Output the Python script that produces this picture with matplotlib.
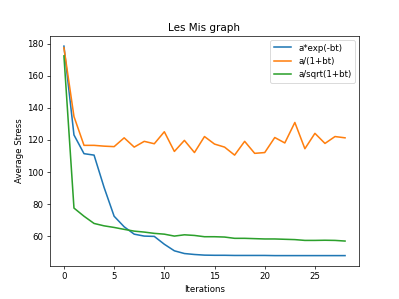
import matplotlib
matplotlib.use("Agg")
import matplotlib.pyplot as plt

iterations = list(range(29))

stress_exp = [178.5, 123, 111.3, 110.4, 90.2, 72.2, 65.6, 61, 59.8, 59.6,
              54.7, 50.6, 48.9, 48.3, 47.9, 47.8, 47.8, 47.7, 47.7, 47.7,
              47.7, 47.6, 47.6, 47.6, 47.6, 47.6, 47.6, 47.6, 47.6]
stress_inv = [177.5, 134.5, 116.5, 116.5, 116, 115.7, 121.2, 115.4, 119, 117.5,
              125, 112.7, 119.6, 112, 122, 117.3, 115.4, 110.4, 119, 111.5,
              112, 121.4, 118, 130.8, 114.4, 124, 117.7, 122, 121.2]
stress_sqrt = [172.4, 77.3, 72.2, 67.7, 66.2, 65.2, 64, 62.9, 62.3, 61.5,
               61, 59.8, 60.6, 60.2, 59.4, 59.4, 59.2, 58.4, 58.4, 58.2,
               58, 58, 57.8, 57.6, 57.1, 57.1, 57.2, 57.1, 56.7]

plt.rcParams['lines.linewidth'] = 1.8

fig, ax = plt.subplots(figsize=(6.4, 4.8), dpi=399 / 6.4)
ax.plot(iterations, stress_exp, label="a*exp(-bt)")
ax.plot(iterations, stress_inv, label="a/(1+bt)")
ax.plot(iterations, stress_sqrt, label="a/sqrt(1+bt)")
ax.set_title("Les Mis graph")
ax.set_xlabel("Iterations")
ax.set_ylabel("Average Stress")
ax.legend()

fig.savefig("out.png")
